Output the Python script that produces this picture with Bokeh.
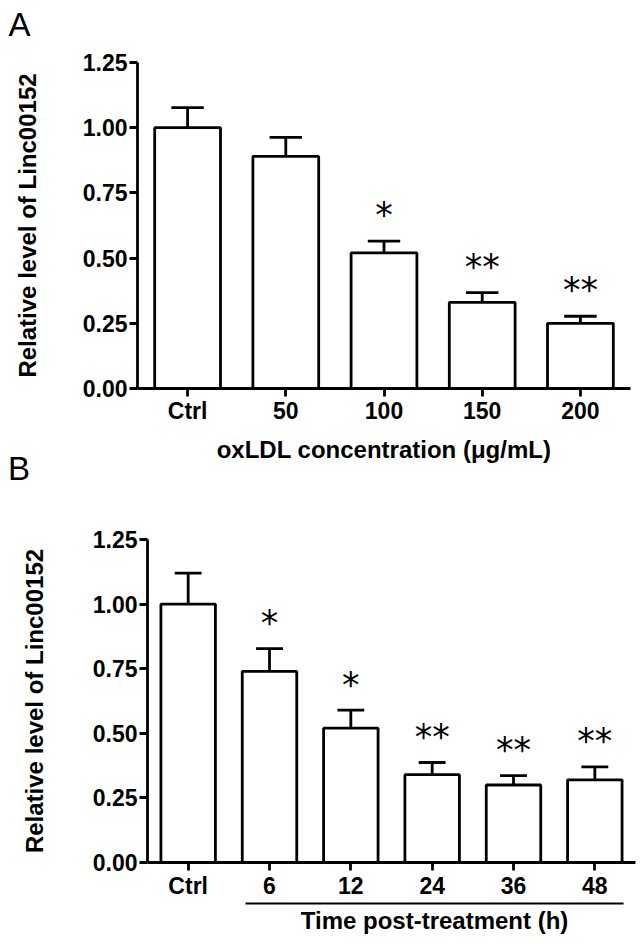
from bokeh.plotting import figure
from bokeh.layouts import column
from bokeh.models import Range1d, FixedTicker, NumeralTickFormatter
from bokeh.core.properties import value
from bokeh.embed import file_html
from bokeh.resources import INLINE
import numpy as np

# ---------------- data ----------------
a_labels = ["Ctrl", "50", "100", "150", "200"]
a_means = [1.00, 0.89, 0.52, 0.33, 0.25]
a_errs = [0.077, 0.073, 0.045, 0.038, 0.027]
a_stars = ["", "", "*", "**", "**"]

b_labels = ["Ctrl", "6", "12", "24", "36", "48"]
b_means = [1.00, 0.74, 0.52, 0.34, 0.30, 0.32]
b_errs = [0.12, 0.088, 0.07, 0.047, 0.036, 0.05]
b_stars = ["", "*", "*", "**", "**", "**"]

y_ticks = [0.0, 0.25, 0.5, 0.75, 1.0, 1.25]

FONT = "Liberation Sans"
LW = 2.8
BAR_W = 0.67
CAP_HALF = 0.165
STAR_GAP = 0.118

H_A, H_B, H_C, OVERLAP = 467, 461, 40, 27
TOTAL_H = H_A + H_B + H_C - OVERLAP


def style_axes(p, xlabels, ylabel, xlabel, y_standoff, x_standoff, xl_standoff):
    p.xaxis.ticker = FixedTicker(ticks=list(range(len(xlabels))))
    p.xaxis.major_label_overrides = {i: s for i, s in enumerate(xlabels)}
    p.yaxis.ticker = FixedTicker(ticks=y_ticks)
    p.yaxis.formatter = NumeralTickFormatter(format="0.00")
    for ax in (p.xaxis[0], p.yaxis[0]):
        ax.axis_line_width = LW
        ax.axis_line_color = "black"
        ax.major_tick_line_width = LW
        ax.major_tick_line_color = "black"
        ax.major_tick_out = 8
        ax.major_tick_in = 0
        ax.minor_tick_out = 0
        ax.minor_tick_in = 0
        ax.major_label_text_font = FONT
        ax.major_label_text_font_size = "23px"
        ax.major_label_text_font_style = "bold"
        ax.major_label_text_color = "black"
        ax.axis_label_text_font = FONT
        ax.axis_label_text_font_size = "24px"
        ax.axis_label_text_font_style = "bold"
        ax.axis_label_text_color = "black"
    p.yaxis.major_label_standoff = 2
    p.xaxis.major_label_standoff = xl_standoff
    p.yaxis.axis_label = ylabel
    p.yaxis.axis_label_standoff = y_standoff
    if xlabel:
        p.xaxis.axis_label = xlabel
        p.xaxis.axis_label_standoff = x_standoff
    p.xgrid.visible = False
    p.ygrid.visible = False
    p.outline_line_color = None


def draw_bars(p, means, errs, stars):
    n = len(means)
    x = np.arange(n)
    m = np.array(means)
    top = m + np.array(errs)
    p.vbar(x=x, top=m, bottom=0, width=BAR_W, fill_color="white",
           line_color="black", line_width=LW)
    p.segment(x0=x, y0=m, x1=x, y1=top, line_color="black", line_width=LW)
    p.segment(x0=x - CAP_HALF, y0=top, x1=x + CAP_HALF, y1=top,
              line_color="black", line_width=LW)
    p.text(x=x, y=top + STAR_GAP, text=stars, text_align="center",
           text_baseline="alphabetic", y_offset=5,
           text_font=value("DejaVu Sans"), text_font_size="35px",
           text_color="black")


# ---------------- panel A ----------------
pa = figure(width=640, height=H_A, output_backend="svg", toolbar_location=None,
            x_range=Range1d(-0.51, 4.51), y_range=Range1d(0, 1.25),
            min_border_left=137, min_border_right=10, min_border_top=62,
            min_border_bottom=79, frame_align=False)
draw_bars(pa, a_means, a_errs, a_stars)
style_axes(pa, a_labels, "Relative level of Linc00152",
           "oxLDL concentration (\u03bcg/mL)", 39, 9, 1)

# ---------------- panel B (overlaps A's empty bottom strip) ----------------
pb = figure(width=640, height=H_B, output_backend="svg", toolbar_location=None,
            x_range=Range1d(-0.5, 5.5), y_range=Range1d(0, 1.25),
            min_border_left=147, min_border_right=5, min_border_top=99,
            min_border_bottom=39, margin=(-OVERLAP, 0, 0, 0),
            border_fill_color=None, frame_align=False)
draw_bars(pb, b_means, b_errs, b_stars)
style_axes(pb, b_labels, "Relative level of Linc00152", None, 42, 0, 2)

# ---------------- group bracket + title under panel B ----------------
pc = figure(width=640, height=H_C, output_backend="svg", toolbar_location=None,
            x_range=pb.x_range, y_range=Range1d(0, H_C),
            x_axis_type=None, y_axis_type=None,
            min_border_left=147, min_border_right=5, min_border_top=0,
            min_border_bottom=0, border_fill_color=None, frame_align=False)
pc.outline_line_color = None
pc.xgrid.visible = False
pc.ygrid.visible = False
grp_start, grp_end = 1 - 0.295, len(b_labels) - 1 + 0.353
pc.segment(x0=[grp_start], y0=[38], x1=[grp_end], y1=[38],
           line_color="black", line_width=2.2)
pc.text(x=[(grp_start + grp_end) / 2], y=[21], text=["Time post-treatment (h)"],
        text_align="center", text_baseline="alphabetic",
        text_font=value(FONT), text_font_size="24px", text_font_style="bold",
        text_color="black")

# ---------------- panel letters: transparent overlay over the whole page ----------------
po = figure(width=644, height=TOTAL_H, output_backend="svg", toolbar_location=None,
            x_range=Range1d(0, 644), y_range=Range1d(TOTAL_H, 0),
            x_axis_type=None, y_axis_type=None,
            min_border_left=0, min_border_right=0, min_border_top=0,
            min_border_bottom=0, border_fill_color=None,
            background_fill_color=None, margin=(-TOTAL_H, 0, 0, 0),
            frame_align=False)
po.outline_line_color = None
po.xgrid.visible = False
po.ygrid.visible = False
po.text(x=[8, 7.5], y=[24, 468], text=["A", "B"], text_align="left",
        text_baseline="alphabetic", text_font=value(FONT),
        text_font_size="33px", text_color="black")

layout = column(pa, pb, pc, po, spacing=0)
open("out.html", "w").write(file_html(layout, INLINE))
